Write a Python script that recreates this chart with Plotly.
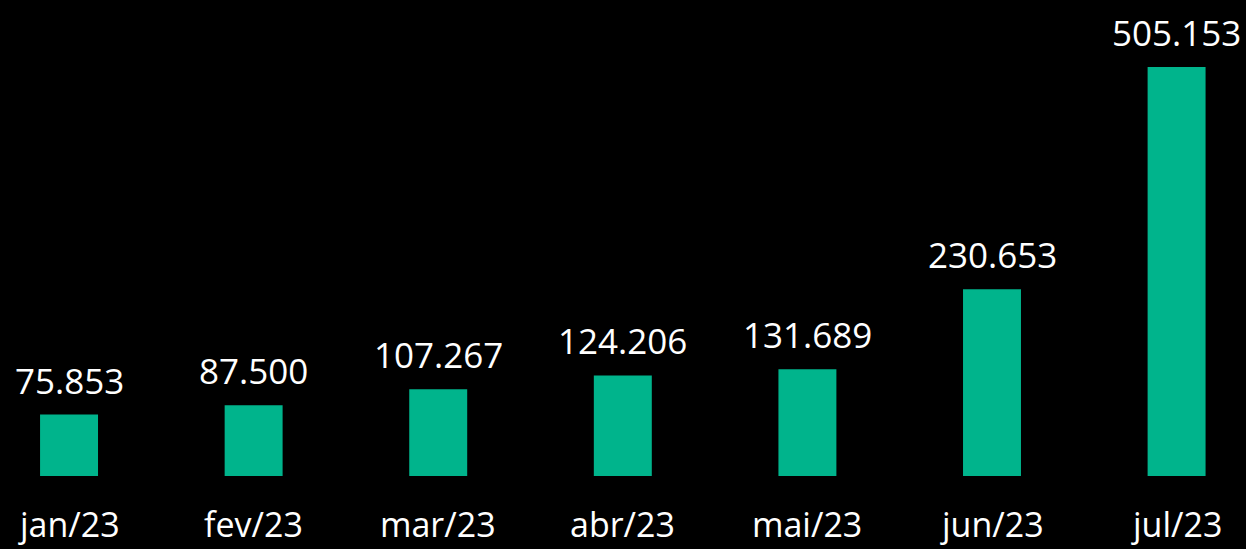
import plotly.graph_objects as go

categories = ["jan/23", "fev/23", "mar/23", "abr/23", "mai/23", "jun/23", "jul/23"]
values = [75853, 87500, 107267, 124206, 131689, 230653, 505153]
labels = ["75.853", "87.500", "107.267", "124.206", "131.689", "230.653", "505.153"]

FONT = "Open Sans"
fig = go.Figure()
fig.add_trace(go.Bar(
    x=list(range(len(categories))), y=values,
    marker=dict(color="#00B48C", line=dict(width=0)),
    width=0.314, hoverinfo="skip",
))
for i, (v, t) in enumerate(zip(values, labels)):
    fig.add_annotation(x=i, y=v, text=t, showarrow=False, yanchor="bottom",
                       yshift=9, font=dict(family=FONT, size=35, color="white"))
for i, c in enumerate(categories):
    fig.add_annotation(x=i, y=0, text=c, showarrow=False, yanchor="middle",
                       yshift=-48, font=dict(family=FONT, size=34, color="white"))

fig.update_layout(
    width=1246, height=549,
    margin=dict(l=0, r=0, t=0, b=0),
    paper_bgcolor="black", plot_bgcolor="black",
    showlegend=False,
    xaxis=dict(range=[-0.374, 6.376], visible=False, fixedrange=True),
    yaxis=dict(range=[-90157, 587873], visible=False, fixedrange=True),
)
fig.write_html("out.html", config={"displayModeBar": False},
               post_script="document.body.style.margin='0';document.body.style.background='black';")
